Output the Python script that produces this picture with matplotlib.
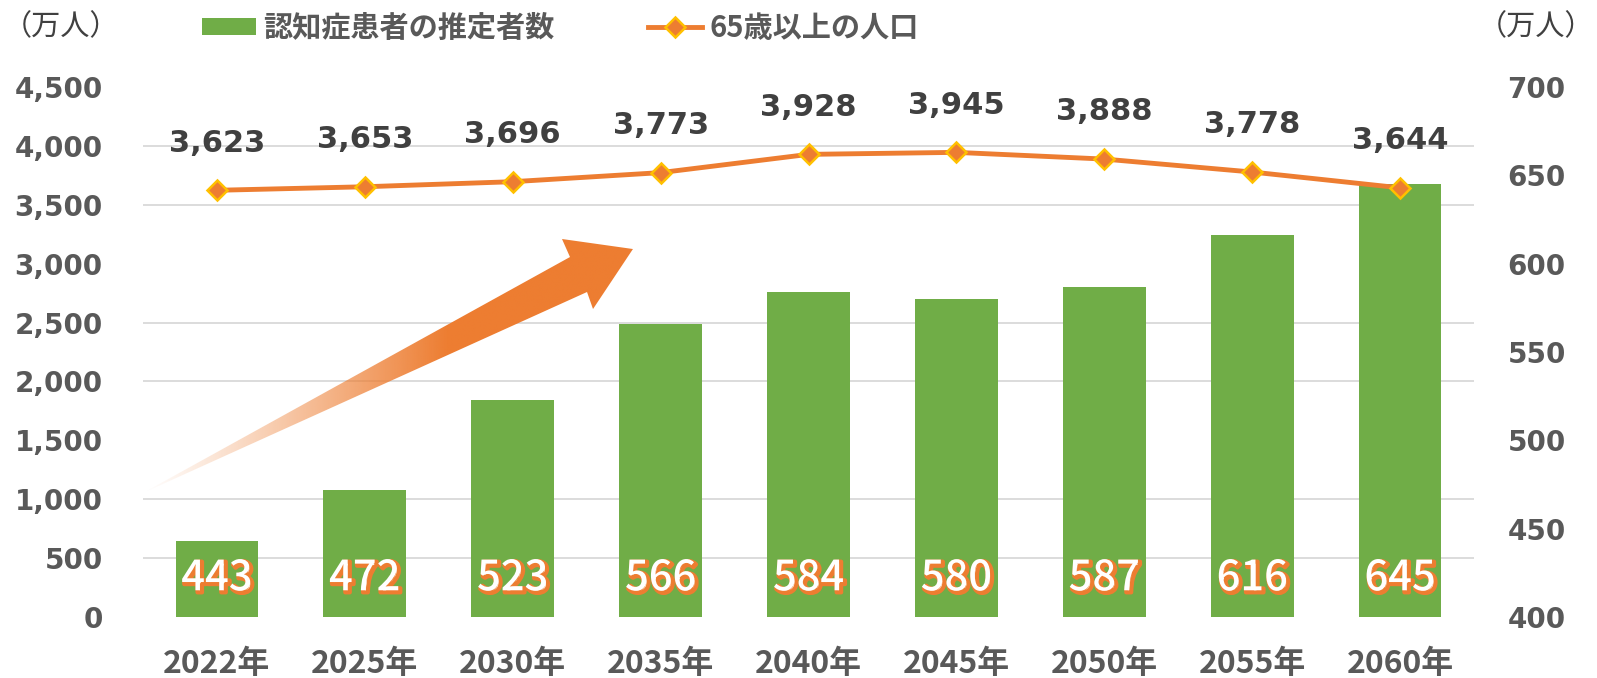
import numpy as np
import matplotlib
matplotlib.use("Agg")
import matplotlib.pyplot as plt
import matplotlib.patheffects as pe
from matplotlib.patches import Polygon
from matplotlib.lines import Line2D
from matplotlib.patches import Patch
from matplotlib.ticker import MultipleLocator, FuncFormatter
import matplotlib.transforms as mtransforms

plt.rcParams['font.family'] = ['DejaVu Sans', 'Noto Sans CJK JP']

years = ["2022年", "2025年", "2030年", "2035年", "2040年", "2045年", "2050年", "2055年", "2060年"]
dementia = [443, 472, 523, 566, 584, 580, 587, 616, 645]          # 万人 (right axis)
elderly = [3623, 3653, 3696, 3773, 3928, 3945, 3888, 3778, 3644]  # 万人 (left axis)
legend_bar = "認知症患者の推定者数"
legend_line = "65歳以上の人口"
unit_label = "（万人）"

GREEN = "#70AD47"
ORANGE = "#ED7D31"
YELLOW = "#FFC000"
TICK = "#595959"
LABEL = "#404040"
GRID = "#D9D9D9"
CJK = ["Noto Sans CJK JP", "DejaVu Sans"]

W, H = 1597, 678
fig = plt.figure(figsize=(W / 100, H / 100), dpi=100)
L, R, B, T = 143, 1474, 617, 87
ax = fig.add_axes([L / W, 1 - B / H, (R - L) / W, (B - T) / H])
ax2 = ax.twinx()
ax.set_zorder(2)
ax2.set_zorder(1)
ax.patch.set_visible(False)

x = np.arange(len(years))

# bars on right axis
ax2.bar(x, dementia, width=0.56, color=GREEN, zorder=2)
ax2.set_ylim(400, 700)
ax2.yaxis.set_major_locator(MultipleLocator(50))
ax2.yaxis.set_minor_locator(MultipleLocator(300 / 9))
ax2.grid(which='minor', axis='y', color=GRID, linewidth=1.3, zorder=0)
ax2.set_axisbelow(True)
ax2.tick_params(axis='y', which='both', length=0, pad=24, labelsize=20, labelcolor=TICK)
for lab in ax2.get_yticklabels():
    lab.set_fontweight('bold')

blend = mtransforms.blended_transform_factory(ax2.transData, ax2.transAxes)
for xi, v in zip(x, dementia):
    ax2.text(xi, 0.074, f"{v}", transform=blend, ha='center', va='center',
             fontsize=30, family=CJK, fontweight='medium', color='white', zorder=5,
             path_effects=[pe.Stroke(linewidth=3, foreground=ORANGE, offset=(1.5, -1.5)),
                           pe.Normal()])

# line on left axis
ax.plot(x, elderly, color=ORANGE, linewidth=3.5, marker='D', markersize=10,
        markerfacecolor=ORANGE, markeredgecolor=YELLOW, markeredgewidth=1.8, zorder=4,
        solid_capstyle='round')
for xi, v in zip(x, elderly):
    ax.annotate(f"{v:,}", (xi, v), xytext=(0, 34), textcoords='offset points',
                ha='center', va='center', fontsize=22, fontweight='bold', color=LABEL)
ax.set_ylim(0, 4500)
ax.yaxis.set_major_locator(MultipleLocator(500))
ax.yaxis.set_major_formatter(FuncFormatter(lambda v, p: f"{int(v):,}"))
ax.tick_params(axis='y', length=0, pad=29, labelsize=20, labelcolor=TICK)
for lab in ax.get_yticklabels():
    lab.set_fontweight('bold')

ax.set_xlim(-0.5, len(years) - 0.5)
ax.set_xticks(x)
ax.set_xticklabels(years, family=CJK, fontweight='bold', fontsize=23, color=TICK)
ax.tick_params(axis='x', length=0, pad=22)

for a in (ax, ax2):
    for s in a.spines.values():
        s.set_visible(False)

# decorative gradient arrow (axes fraction coordinates)
arrow_pts = np.array([[0.0, 0.234], [0.3208, 0.6792], [0.3148, 0.7132], [0.3681, 0.6943],
                      [0.3381, 0.5811], [0.3336, 0.6132]])
poly = Polygon(arrow_pts, closed=True, transform=ax.transAxes, facecolor='none', edgecolor='none')
ax.add_patch(poly)
nx = 400
t = np.linspace(0, 1, nx)
alpha = np.clip(t / 0.62, 0, 1) ** 1.1
rgb = matplotlib.colors.to_rgb(ORANGE)
img = np.zeros((2, nx, 4))
img[..., 0], img[..., 1], img[..., 2] = rgb
img[..., 3] = alpha
im = ax.imshow(img, extent=(0.0, 0.3681, 0.2, 0.72), transform=ax.transAxes,
               aspect='auto', zorder=3, interpolation='bilinear', origin='lower')
im.set_clip_path(poly)

# legend
handles = [Patch(facecolor=GREEN, edgecolor='none'),
           Line2D([0], [0], color=ORANGE, linewidth=3.5, marker='D', markersize=10,
                  markerfacecolor=ORANGE, markeredgecolor=YELLOW, markeredgewidth=1.8)]
leg = fig.legend(handles, [legend_bar, legend_line], loc='center left',
                 bbox_to_anchor=(202 / W, 1 - 28 / H), ncol=2, frameon=False,
                 borderpad=0, borderaxespad=0, handlelength=1.85, handleheight=0.55,
                 handletextpad=0.25, columnspacing=3.2,
                 prop={'family': CJK, 'weight': 'bold', 'size': 21})
for txt in leg.get_texts():
    txt.set_color(TICK)

fig.text(3 / W, 1 - 27 / H, unit_label, ha='left', va='center', fontsize=21,
         family=CJK, color=LABEL)
fig.text(1594 / W, 1 - 27 / H, unit_label, ha='right', va='center', fontsize=21,
         family=CJK, color=LABEL)

fig.savefig("out.png", dpi=100)
